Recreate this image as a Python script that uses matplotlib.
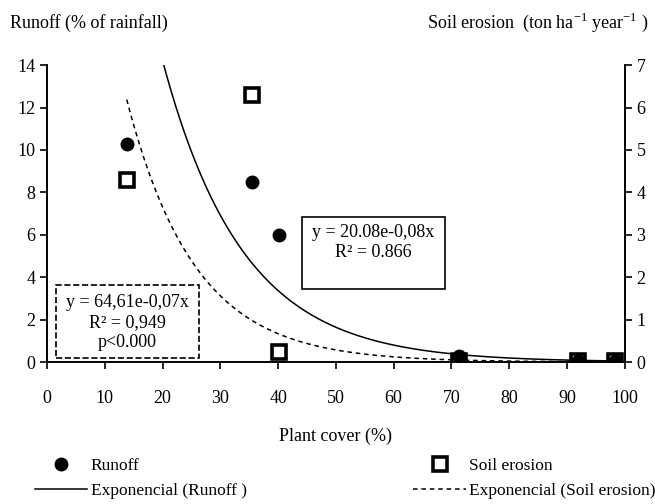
import numpy as np
import matplotlib
matplotlib.use("Agg")
import matplotlib.pyplot as plt
from matplotlib.lines import Line2D
from matplotlib.patches import Rectangle

plt.rcParams['font.family'] = ['Liberation Serif', 'DejaVu Serif']

# plant cover (%)
cover = [13.8, 35.5, 40.1, 71.3, 91.9, 98.3]
# runoff (% of rainfall), left axis
runoff = [10.3, 8.5, 6.0, 0.3, 0.05, 0.05]
# soil erosion (ton/ha/year), right axis
erosion = [4.3, 6.3, 0.24, 0.02, 0.02, 0.02]

# trendline coefficients: y = a*exp(-b*x)
runoff_a, runoff_b = 60.0, 0.072
erosion_a, erosion_b = 20.0, 0.085

fs = 13

fig = plt.figure(figsize=(6.55, 5.04), dpi=100)
ax = fig.add_axes([0.0718, 0.2817, 0.882, 0.589])
ax2 = ax.twinx()
# runoff axis drawn on top so the filled circles cover the squares
ax.set_zorder(ax2.get_zorder() + 1)
ax.patch.set_visible(False)

xs = np.linspace(cover[0], cover[-1], 300)
ax.plot(xs, runoff_a * np.exp(-runoff_b * xs), color='black', lw=1.1)
ax2.plot(xs, erosion_a * np.exp(-erosion_b * xs), color='black', lw=1.1, ls=(0, (3, 2.5)))

ax2.plot(cover, erosion, 's', mfc='white', mec='black', mew=2.6, ms=10, zorder=5)
ax.plot(cover, runoff, 'o', color='black', ms=9, zorder=5)

ax.set_xlim(0, 100)
ax.set_ylim(0, 14)
ax2.set_ylim(0, 7)
ax.set_xticks(range(0, 101, 10))
ax.set_yticks(range(0, 15, 2))
ax2.set_yticks(range(0, 8))
for a in (ax, ax2):
    a.spines['top'].set_visible(False)
    a.tick_params(direction='out', length=5, width=1.2, labelsize=fs)
    for s in a.spines.values():
        s.set_linewidth(1.2)
ax.tick_params(axis='x', pad=15)

ax.set_xlabel('Plant cover (%)', fontsize=fs, labelpad=15)
fig.text(0.015, 0.955, 'Runoff (% of rainfall)', fontsize=fs, va='center')
fig.text(0.99, 0.955, 'Soil erosion  (ton ha$^{\\mathregular{-1}}$ year$^{\\mathregular{-1}}$ )',
         fontsize=fs, va='center', ha='right')

# equation boxes (axes fraction coordinates)
ax.add_patch(Rectangle((0.441, 0.246), 0.248, 0.244, transform=ax.transAxes,
                       fc='white', ec='black', lw=1.2, zorder=6))
ax.text(0.565, 0.435, 'y = 20.08e-0,08x', transform=ax.transAxes, fontsize=fs,
        ha='center', va='center', zorder=7)
ax.text(0.565, 0.368, 'R² = 0.866', transform=ax.transAxes, fontsize=fs,
        ha='center', va='center', zorder=7)

ax.add_patch(Rectangle((0.0156, 0.0135), 0.247, 0.2455, transform=ax.transAxes,
                       fc='white', ec='black', lw=1.2, ls='--', zorder=6))
for txt, yy in [('y = 64,61e-0,07x', 0.202), ('R² = 0,949', 0.133), ('p<0.000', 0.067)]:
    ax.text(0.139, yy, txt, transform=ax.transAxes, fontsize=fs,
            ha='center', va='center', zorder=7)

handles = [
    Line2D([], [], marker='o', color='black', ls='none', ms=9),
    Line2D([], [], color='black', lw=1.1),
    Line2D([], [], marker='s', mfc='white', mec='black', mew=2.6, ls='none', ms=10),
    Line2D([], [], color='black', lw=1.1, ls=(0, (3, 2.5))),
]
labels = ['Runoff', 'Exponencial (Runoff )', 'Soil erosion', 'Exponencial (Soil erosion)']
fig.legend(handles, labels, loc='lower left', bbox_to_anchor=(0.03, -0.022), ncol=2,
           frameon=False, fontsize=12.5, handlelength=3.0, columnspacing=9.6,
           handletextpad=0.2, labelspacing=0.55)

fig.savefig('out.png', dpi=100)
